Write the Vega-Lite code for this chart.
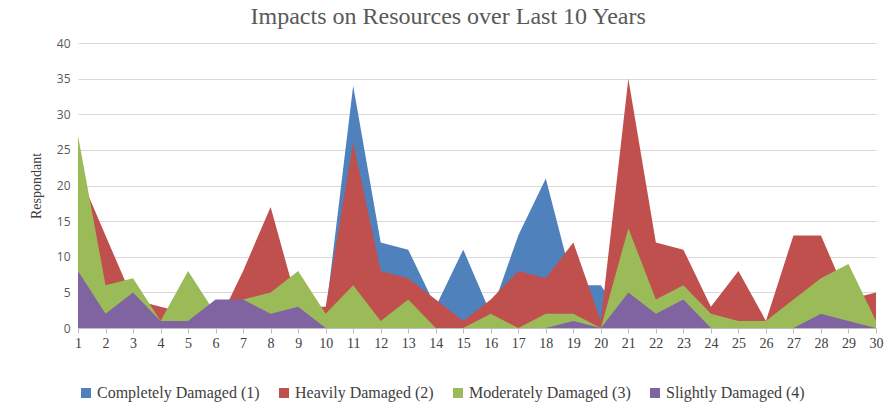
{
  "$schema": "https://vega.github.io/schema/vega-lite/v6.json",
  "width": 798,
  "height": 285,
  "autosize": "none",
  "padding": {"left": 78, "top": 43, "right": 13, "bottom": 86},
  "background": "white",
  "title": {"text": "Impacts on Resources over Last 10 Years", "font": "Liberation Serif", "fontSize": 24, "fontWeight": "normal", "color": "#595959", "anchor": "middle", "frame": "bounds", "offset": 8, "dx": -8},
  "config": {"view": {"stroke": null}},
  "data": {"values": [
    {"x":1,"s":"Completely Damaged (1)","v":0},{"x":2,"s":"Completely Damaged (1)","v":0},{"x":3,"s":"Completely Damaged (1)","v":0},{"x":4,"s":"Completely Damaged (1)","v":0},{"x":5,"s":"Completely Damaged (1)","v":0},{"x":6,"s":"Completely Damaged (1)","v":0},{"x":7,"s":"Completely Damaged (1)","v":0},{"x":8,"s":"Completely Damaged (1)","v":0},{"x":9,"s":"Completely Damaged (1)","v":0},{"x":10,"s":"Completely Damaged (1)","v":2},{"x":11,"s":"Completely Damaged (1)","v":34},{"x":12,"s":"Completely Damaged (1)","v":12},{"x":13,"s":"Completely Damaged (1)","v":11},{"x":14,"s":"Completely Damaged (1)","v":3},{"x":15,"s":"Completely Damaged (1)","v":11},{"x":16,"s":"Completely Damaged (1)","v":2},{"x":17,"s":"Completely Damaged (1)","v":13},{"x":18,"s":"Completely Damaged (1)","v":21},{"x":19,"s":"Completely Damaged (1)","v":6},{"x":20,"s":"Completely Damaged (1)","v":6},{"x":21,"s":"Completely Damaged (1)","v":0},{"x":22,"s":"Completely Damaged (1)","v":0},{"x":23,"s":"Completely Damaged (1)","v":0},{"x":24,"s":"Completely Damaged (1)","v":0},{"x":25,"s":"Completely Damaged (1)","v":0},{"x":26,"s":"Completely Damaged (1)","v":0},{"x":27,"s":"Completely Damaged (1)","v":0},{"x":28,"s":"Completely Damaged (1)","v":0},{"x":29,"s":"Completely Damaged (1)","v":0},{"x":30,"s":"Completely Damaged (1)","v":0},
    {"x":1,"s":"Heavily Damaged (2)","v":22},{"x":2,"s":"Heavily Damaged (2)","v":13},{"x":3,"s":"Heavily Damaged (2)","v":4},{"x":4,"s":"Heavily Damaged (2)","v":3},{"x":5,"s":"Heavily Damaged (2)","v":2},{"x":6,"s":"Heavily Damaged (2)","v":0},{"x":7,"s":"Heavily Damaged (2)","v":8},{"x":8,"s":"Heavily Damaged (2)","v":17},{"x":9,"s":"Heavily Damaged (2)","v":3},{"x":10,"s":"Heavily Damaged (2)","v":3},{"x":11,"s":"Heavily Damaged (2)","v":26},{"x":12,"s":"Heavily Damaged (2)","v":8},{"x":13,"s":"Heavily Damaged (2)","v":7},{"x":14,"s":"Heavily Damaged (2)","v":4},{"x":15,"s":"Heavily Damaged (2)","v":1},{"x":16,"s":"Heavily Damaged (2)","v":4},{"x":17,"s":"Heavily Damaged (2)","v":8},{"x":18,"s":"Heavily Damaged (2)","v":7},{"x":19,"s":"Heavily Damaged (2)","v":12},{"x":20,"s":"Heavily Damaged (2)","v":1},{"x":21,"s":"Heavily Damaged (2)","v":35},{"x":22,"s":"Heavily Damaged (2)","v":12},{"x":23,"s":"Heavily Damaged (2)","v":11},{"x":24,"s":"Heavily Damaged (2)","v":3},{"x":25,"s":"Heavily Damaged (2)","v":8},{"x":26,"s":"Heavily Damaged (2)","v":1},{"x":27,"s":"Heavily Damaged (2)","v":13},{"x":28,"s":"Heavily Damaged (2)","v":13},{"x":29,"s":"Heavily Damaged (2)","v":4},{"x":30,"s":"Heavily Damaged (2)","v":5},
    {"x":1,"s":"Moderately Damaged (3)","v":27},{"x":2,"s":"Moderately Damaged (3)","v":6},{"x":3,"s":"Moderately Damaged (3)","v":7},{"x":4,"s":"Moderately Damaged (3)","v":1},{"x":5,"s":"Moderately Damaged (3)","v":8},{"x":6,"s":"Moderately Damaged (3)","v":2},{"x":7,"s":"Moderately Damaged (3)","v":4},{"x":8,"s":"Moderately Damaged (3)","v":5},{"x":9,"s":"Moderately Damaged (3)","v":8},{"x":10,"s":"Moderately Damaged (3)","v":2},{"x":11,"s":"Moderately Damaged (3)","v":6},{"x":12,"s":"Moderately Damaged (3)","v":1},{"x":13,"s":"Moderately Damaged (3)","v":4},{"x":14,"s":"Moderately Damaged (3)","v":0},{"x":15,"s":"Moderately Damaged (3)","v":0},{"x":16,"s":"Moderately Damaged (3)","v":2},{"x":17,"s":"Moderately Damaged (3)","v":0},{"x":18,"s":"Moderately Damaged (3)","v":2},{"x":19,"s":"Moderately Damaged (3)","v":2},{"x":20,"s":"Moderately Damaged (3)","v":0},{"x":21,"s":"Moderately Damaged (3)","v":14},{"x":22,"s":"Moderately Damaged (3)","v":4},{"x":23,"s":"Moderately Damaged (3)","v":6},{"x":24,"s":"Moderately Damaged (3)","v":2},{"x":25,"s":"Moderately Damaged (3)","v":1},{"x":26,"s":"Moderately Damaged (3)","v":1},{"x":27,"s":"Moderately Damaged (3)","v":4},{"x":28,"s":"Moderately Damaged (3)","v":7},{"x":29,"s":"Moderately Damaged (3)","v":9},{"x":30,"s":"Moderately Damaged (3)","v":1},
    {"x":1,"s":"Slightly Damaged (4)","v":8},{"x":2,"s":"Slightly Damaged (4)","v":2},{"x":3,"s":"Slightly Damaged (4)","v":5},{"x":4,"s":"Slightly Damaged (4)","v":1},{"x":5,"s":"Slightly Damaged (4)","v":1},{"x":6,"s":"Slightly Damaged (4)","v":4},{"x":7,"s":"Slightly Damaged (4)","v":4},{"x":8,"s":"Slightly Damaged (4)","v":2},{"x":9,"s":"Slightly Damaged (4)","v":3},{"x":10,"s":"Slightly Damaged (4)","v":0},{"x":11,"s":"Slightly Damaged (4)","v":0},{"x":12,"s":"Slightly Damaged (4)","v":0},{"x":13,"s":"Slightly Damaged (4)","v":0},{"x":14,"s":"Slightly Damaged (4)","v":0},{"x":15,"s":"Slightly Damaged (4)","v":0},{"x":16,"s":"Slightly Damaged (4)","v":0},{"x":17,"s":"Slightly Damaged (4)","v":0},{"x":18,"s":"Slightly Damaged (4)","v":0},{"x":19,"s":"Slightly Damaged (4)","v":1},{"x":20,"s":"Slightly Damaged (4)","v":0},{"x":21,"s":"Slightly Damaged (4)","v":5},{"x":22,"s":"Slightly Damaged (4)","v":2},{"x":23,"s":"Slightly Damaged (4)","v":4},{"x":24,"s":"Slightly Damaged (4)","v":0},{"x":25,"s":"Slightly Damaged (4)","v":0},{"x":26,"s":"Slightly Damaged (4)","v":0},{"x":27,"s":"Slightly Damaged (4)","v":0},{"x":28,"s":"Slightly Damaged (4)","v":2},{"x":29,"s":"Slightly Damaged (4)","v":1},{"x":30,"s":"Slightly Damaged (4)","v":0}
  ]},
  "mark": {"type": "area", "opacity": 1},
  "encoding": {
    "x": {"field": "x", "type": "quantitative", "scale": {"domain": [1, 30], "nice": false, "zero": false},
      "axis": {"values": [1,2,3,4,5,6,7,8,9,10,11,12,13,14,15,16,17,18,19,20,21,22,23,24,25,26,27,28,29,30], "format": "d", "title": null, "grid": false, "labelFlush": false, "labelFont": "Liberation Serif", "labelFontSize": 14, "labelColor": "#404040", "domainColor": "#bfbfbf", "tickColor": "#bfbfbf", "tickSize": 5, "labelPadding": 3}},
    "y": {"field": "v", "type": "quantitative", "stack": null, "scale": {"domain": [0, 40], "nice": false},
      "axis": {"values": [0,5,10,15,20,25,30,35,40], "title": "Respondant", "titleFont": "Liberation Serif", "titleFontSize": 14, "titleFontWeight": "normal", "titleColor": "#404040", "labelFont": "Open Sans", "labelFontSize": 12, "labelColor": "#595959", "labelFlush": false, "domain": false, "ticks": false, "gridColor": "#d9d9d9", "gridWidth": 1.2, "labelPadding": 8, "titlePadding": 13}},
    "color": {"field": "s", "type": "nominal",
      "scale": {"domain": ["Completely Damaged (1)", "Heavily Damaged (2)", "Moderately Damaged (3)", "Slightly Damaged (4)"], "range": ["#4F81BD", "#C0504D", "#9BBB59", "#8064A2"]},
      "legend": {"orient": "bottom", "direction": "horizontal", "title": null, "symbolType": "square", "symbolSize": 100, "symbolStrokeWidth": 0, "labelFont": "Liberation Serif", "labelFontSize": 16, "labelColor": "#404040", "offset": 35, "columnPadding": 16, "labelOffset": 3, "labelLimit": 300}}
  }
}
